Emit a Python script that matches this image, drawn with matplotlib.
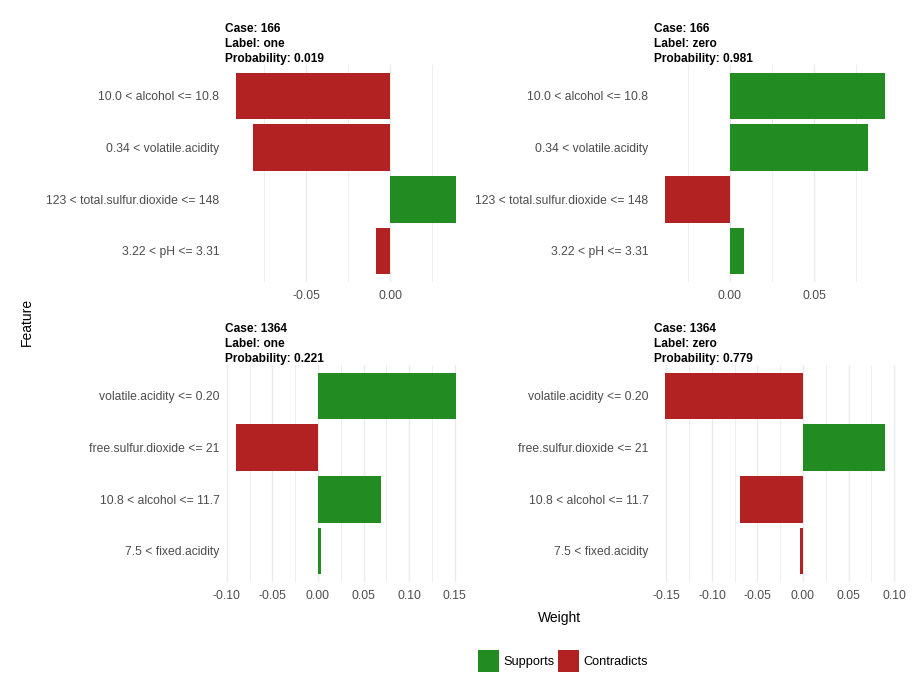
import matplotlib
matplotlib.use("Agg")
import matplotlib.pyplot as plt
from matplotlib.patches import Patch
from matplotlib.ticker import MultipleLocator, FormatStrFormatter

plt.rcParams['font.family'] = ['Liberation Sans', 'DejaVu Sans']

# panel data (features listed top to bottom)
cases = ["166", "166", "1364", "1364"]
labels = ["one", "zero", "one", "zero"]
probabilities = ["0.019", "0.981", "0.221", "0.779"]

features_166 = ["10.0 < alcohol <= 10.8", "0.34 < volatile.acidity",
                "123 < total.sulfur.dioxide <= 148", "3.22 < pH <= 3.31"]
features_1364 = ["volatile.acidity <= 0.20", "free.sulfur.dioxide <= 21",
                 "10.8 < alcohol <= 11.7", "7.5 < fixed.acidity"]

weights_166_one = [-0.0917, -0.0815, 0.0391, -0.0083]
weights_166_zero = [0.0923, 0.0821, -0.0387, 0.0083]
weights_1364_one = [0.1513, -0.0899, 0.0691, 0.0033]
weights_1364_zero = [-0.1516, 0.0901, -0.0692, -0.0033]

features = [features_166, features_166, features_1364, features_1364]
weights = [weights_166_one, weights_166_zero, weights_1364_one, weights_1364_zero]

GREEN = "#228B22"
RED = "#B22222"
GRID = "#EBEBEB"
TICK = "#4D4D4D"

fig = plt.figure(figsize=(9.16, 7.0), dpi=100)

W, H = 916, 700
panel_w, panel_h = 242, 217
lefts = [225, 654, 225, 654]
tops = [65, 65, 365, 365]

for i in range(4):
    ax = fig.add_axes([lefts[i] / W, 1 - (tops[i] + panel_h) / H, panel_w / W, panel_h / H])
    n = len(features[i])
    ypos = list(range(n, 0, -1))
    cols = [GREEN if w >= 0 else RED for w in weights[i]]
    ax.barh(ypos, weights[i], height=0.9, color=cols, zorder=2)
    ax.set_yticks(ypos)
    ax.set_yticklabels(features[i])
    ax.set_ylim(0.4, n + 0.6)
    ax.margins(x=0.05)
    ax.xaxis.set_major_locator(MultipleLocator(0.05))
    ax.xaxis.set_minor_locator(MultipleLocator(0.025))
    ax.xaxis.set_major_formatter(FormatStrFormatter('%.2f'))
    ax.grid(axis='x', which='major', color=GRID, linewidth=1.0, zorder=0)
    ax.grid(axis='x', which='minor', color=GRID, linewidth=0.6, zorder=0)
    ax.set_axisbelow(True)
    for s in ax.spines.values():
        s.set_visible(False)
    ax.tick_params(axis='both', which='both', length=0, labelsize=8.7, labelcolor=TICK)
    ax.tick_params(axis='x', pad=5.8)
    ax.tick_params(axis='y', pad=4)
    ax.text(0, 1.0, f"Case: {cases[i]}\nLabel: {labels[i]}\nProbability: {probabilities[i]}",
            transform=ax.transAxes, ha='left', va='bottom', fontsize=8.6,
            fontweight='bold', linespacing=1.36, color='black')

fig.text(27 / W, 1 - 322 / H, "Feature", rotation=90, ha='center', va='center', fontsize=10)
fig.text(560 / W, 1 - 618 / H, "Weight", ha='center', va='center', fontsize=10)

handles = [Patch(facecolor=GREEN, label="Supports"), Patch(facecolor=RED, label="Contradicts")]
fig.legend(handles=handles, loc='center', bbox_to_anchor=(563 / W, 1 - 661 / H), ncol=2,
           frameon=False, fontsize=9.2, handlelength=1.65, handleheight=2.2,
           handletextpad=0.3, columnspacing=0.3, borderaxespad=0)

fig.savefig("out.png", dpi=100, facecolor='white')
